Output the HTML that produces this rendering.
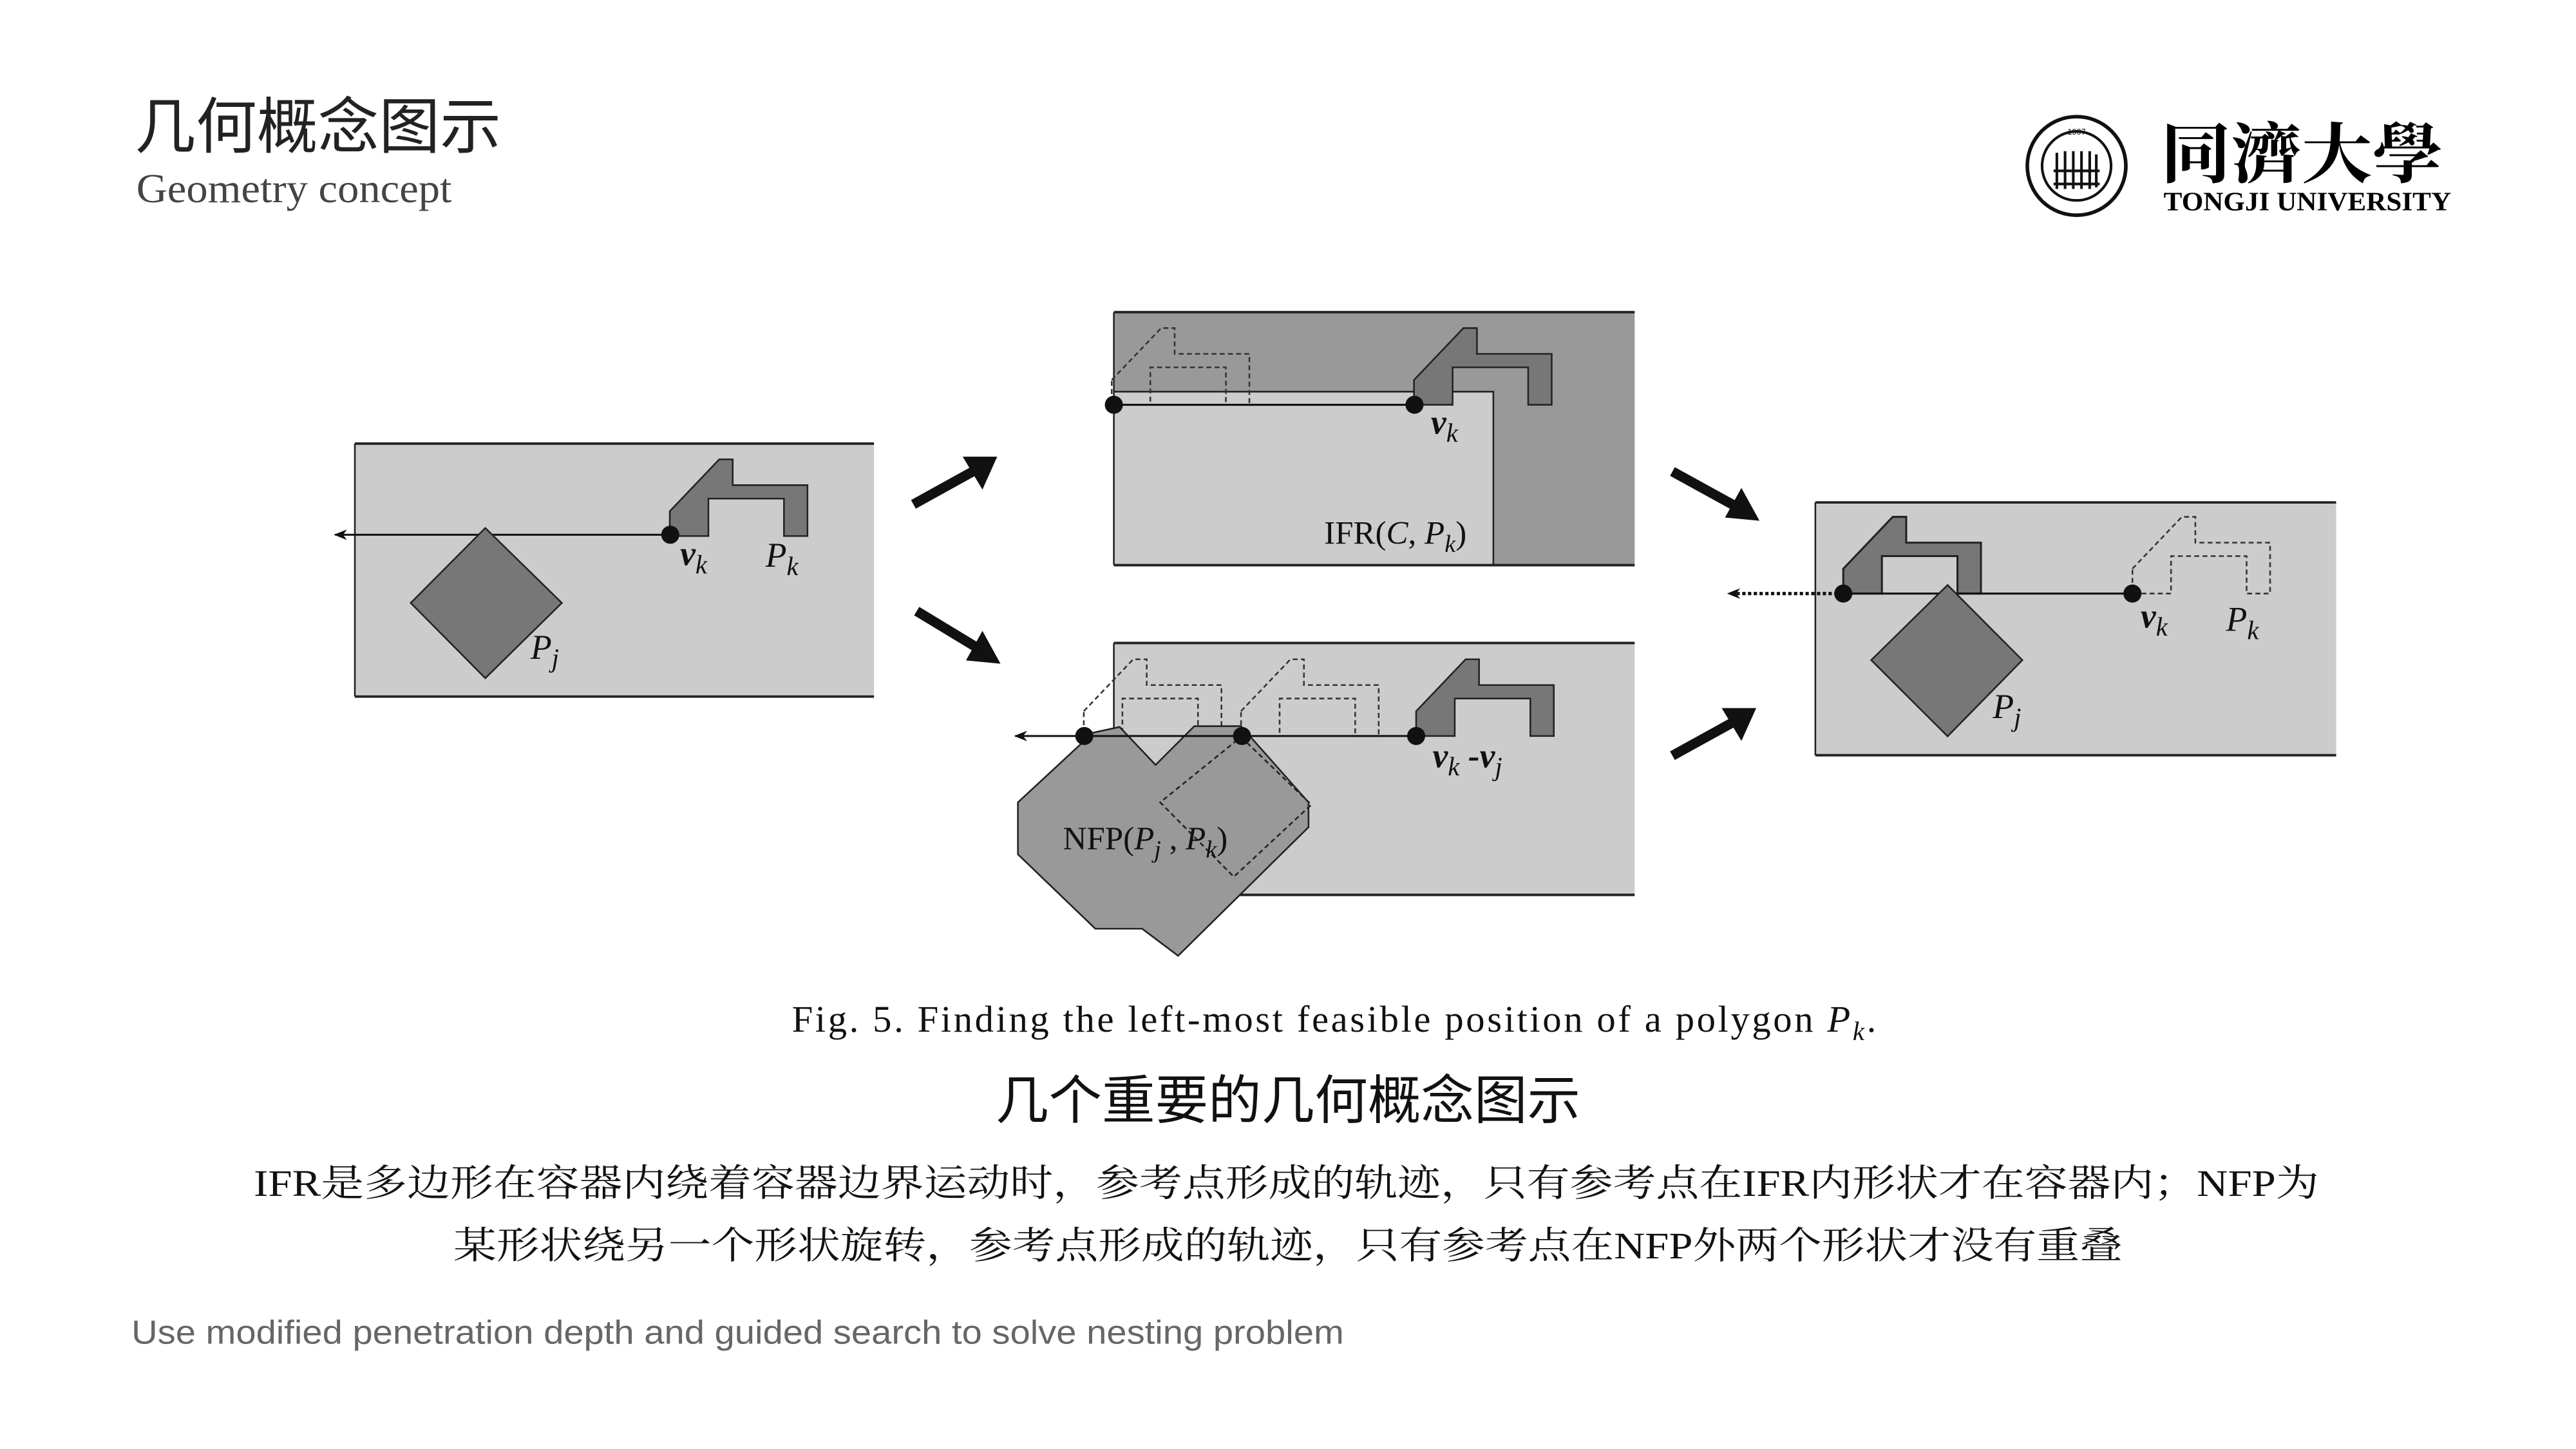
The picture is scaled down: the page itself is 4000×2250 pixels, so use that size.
<!DOCTYPE html>
<html><head><meta charset="utf-8"><style>
html,body{margin:0;padding:0;background:#fff;width:4000px;height:2250px;overflow:hidden}
svg{display:block}
.serif{font-family:"Liberation Serif","Noto Serif CJK SC",serif}
.sans{font-family:"Liberation Sans","Noto Sans CJK SC",sans-serif}
.it{font-style:italic}
</style></head><body>
<svg width="4000" height="2250" viewBox="0 0 1568 882" xmlns="http://www.w3.org/2000/svg">
<defs>
<path id="pk" d="M407.7,311.2 L437.8,279.6 L446,279.6 L446,295.3 L491.5,295.3 L491.5,326.3 L477.2,326.3 L477.2,303.5 L431.2,303.5 L431.2,326.3 L407.7,326.3 Z"/>
<marker id="ah" viewBox="0 0 10 10" refX="9" refY="5" markerWidth="8" markerHeight="8" orient="auto-start-reverse" markerUnits="userSpaceOnUse"><path d="M0,1 L10,5 L0,9 L3,5 Z" fill="#111"/></marker>
</defs>

<!-- Header -->
<text x="82" y="90" class="sans" font-size="37" fill="#222" textLength="223" lengthAdjust="spacingAndGlyphs">几何概念图示</text>
<text x="83" y="123" class="serif" font-size="25" fill="#444" textLength="192" lengthAdjust="spacingAndGlyphs">Geometry concept</text>

<!-- Logo -->
<circle cx="1264" cy="101" r="30" fill="none" stroke="#111" stroke-width="2.2"/>
<circle cx="1264" cy="101" r="21" fill="none" stroke="#111" stroke-width="1.6"/>
<text x="1264" y="82" text-anchor="middle" class="sans" font-size="5" fill="#111">1907</text>
<path d="M1252,93 L1252,115 M1257,92 L1257,115 M1262,92 L1262,115 M1267,92 L1267,115 M1272,92 L1272,115 M1276,94 L1276,114 M1250,104 L1278,104 M1250,112 L1278,112" stroke="#111" stroke-width="1.6" fill="none"/>
<text x="1315" y="108" class="serif" font-size="40" font-weight="bold" fill="#000" textLength="172" lengthAdjust="spacingAndGlyphs">同濟大學</text>
<text x="1317" y="128" class="serif" font-size="16" font-weight="bold" fill="#000" textLength="175" lengthAdjust="spacingAndGlyphs">TONGJI UNIVERSITY</text>

<!-- Panel 1 -->
<rect x="216" y="270" width="316" height="154" fill="#cccccc"/>
<line x1="216" y1="270" x2="532" y2="270" stroke="#222" stroke-width="1.5"/>
<line x1="216" y1="424" x2="532" y2="424" stroke="#222" stroke-width="1.5"/>
<line x1="216" y1="270" x2="216" y2="424" stroke="#222" stroke-width="1"/>
<use href="#pk" fill="#777" stroke="#222" stroke-width="1"/>
<line x1="408" y1="325.5" x2="204" y2="325.5" stroke="#111" stroke-width="1.2" marker-end="url(#ah)"/>
<polygon points="295.4,321.4 342,367 295.4,412.8 250,367" fill="#777" stroke="#222" stroke-width="1"/>
<circle cx="408" cy="325.5" r="5.5" fill="#111"/>
<text x="414" y="344" class="serif it" font-size="21" font-weight="bold" fill="#111">v<tspan font-size="16" dy="5" font-weight="normal">k</tspan></text>
<text x="466" y="345" class="serif it" font-size="21" fill="#111">P<tspan font-size="16" dy="5">k</tspan></text>
<text x="323" y="401" class="serif it" font-size="21" fill="#111">P<tspan font-size="16" dy="5">j</tspan></text>

<!-- Panel IFR -->
<rect x="678" y="190" width="317" height="154" fill="#999999"/>
<rect x="678" y="238.4" width="231" height="105.6" fill="#cccccc"/>
<polyline points="678,238.4 909,238.4 909,344" fill="none" stroke="#222" stroke-width="1"/>
<line x1="678" y1="190" x2="995" y2="190" stroke="#222" stroke-width="1.5"/>
<line x1="678" y1="344" x2="995" y2="344" stroke="#222" stroke-width="1.5"/>
<line x1="678" y1="190" x2="678" y2="344" stroke="#222" stroke-width="1"/>
<use href="#pk" transform="translate(269,-79.9)" fill="none" stroke="#333" stroke-width="1" stroke-dasharray="3,2"/>
<use href="#pk" transform="translate(453,-79.9)" fill="#777" stroke="#222" stroke-width="1"/>
<line x1="861" y1="246.4" x2="678" y2="246.4" stroke="#111" stroke-width="1.2"/>
<circle cx="678" cy="246.4" r="5.5" fill="#111"/>
<circle cx="861" cy="246.4" r="5.5" fill="#111"/>
<text x="871" y="264" class="serif it" font-size="21" font-weight="bold" fill="#111">v<tspan font-size="16" dy="5" font-weight="normal">k</tspan></text>
<text x="806" y="331" class="serif" font-size="20" fill="#111">IFR(<tspan class="it">C</tspan>, <tspan class="it">P</tspan><tspan class="it" font-size="15" dy="5">k</tspan><tspan dy="-5">)</tspan></text>

<!-- Panel NFP -->
<rect x="678" y="391.4" width="317" height="153.3" fill="#cccccc"/>
<line x1="678" y1="391.4" x2="995" y2="391.4" stroke="#222" stroke-width="1.5"/>
<line x1="678" y1="544.7" x2="995" y2="544.7" stroke="#222" stroke-width="1.5"/>
<line x1="678" y1="391.4" x2="678" y2="544.7" stroke="#222" stroke-width="1"/>
<use href="#pk" transform="translate(252,121.7)" fill="none" stroke="#333" stroke-width="1" stroke-dasharray="3,2"/>
<use href="#pk" transform="translate(347.7,121.7)" fill="none" stroke="#333" stroke-width="1" stroke-dasharray="3,2"/>
<polygon points="659.6,447.2 681.5,442.5 703.4,465.6 727,442 755.4,442 796.5,488.4 796.5,503.5 717.1,581.8 695.2,565.3 666.7,565.3 619.6,520 619.6,488.4 659.6,451.3" fill="#999" stroke="#222" stroke-width="1"/>
<polygon points="755.4,448.6 798.2,489.8 751,533.7 706.2,488.4" fill="none" stroke="#222" stroke-width="1" stroke-dasharray="3,2"/>
<use href="#pk" transform="translate(454.3,121.7)" fill="#777" stroke="#222" stroke-width="1"/>
<line x1="862" y1="448" x2="618" y2="448" stroke="#111" stroke-width="1.2" marker-end="url(#ah)"/>
<circle cx="660" cy="448" r="5.5" fill="#111"/>
<circle cx="756" cy="448" r="5.5" fill="#111"/>
<circle cx="862" cy="448" r="5.5" fill="#111"/>
<text x="872" y="467" class="serif it" font-size="21" font-weight="bold" fill="#111">v<tspan font-size="16" dy="5" font-weight="normal">k</tspan><tspan dy="-5"> -v</tspan><tspan font-size="16" dy="5" font-weight="normal">j</tspan></text>
<text x="647" y="517" class="serif" font-size="20" fill="#111">NFP(<tspan class="it">P</tspan><tspan class="it" font-size="15" dy="5">j</tspan><tspan dy="-5"> , </tspan><tspan class="it">P</tspan><tspan class="it" font-size="15" dy="5">k</tspan><tspan dy="-5">)</tspan></text>

<!-- Right panel -->
<rect x="1105" y="305.8" width="317" height="153.9" fill="#cccccc"/>
<line x1="1105" y1="305.8" x2="1422" y2="305.8" stroke="#222" stroke-width="1.5"/>
<line x1="1105" y1="459.7" x2="1422" y2="459.7" stroke="#222" stroke-width="1.5"/>
<line x1="1105" y1="305.8" x2="1105" y2="459.7" stroke="#222" stroke-width="1"/>
<use href="#pk" transform="translate(890.3,35)" fill="none" stroke="#333" stroke-width="1" stroke-dasharray="3,2"/>
<use href="#pk" transform="translate(714.3,35)" fill="#777" stroke="#222" stroke-width="1.2"/>
<line x1="1122" y1="361.3" x2="1298" y2="361.3" stroke="#111" stroke-width="1.2"/>
<line x1="1122" y1="361.3" x2="1052" y2="361.3" stroke="#111" stroke-width="2" stroke-dasharray="2,1.5" marker-end="url(#ah)"/>
<polygon points="1185.5,356.1 1231,401.8 1185.5,448.2 1139,401.8" fill="#777" stroke="#222" stroke-width="1"/>
<circle cx="1122" cy="361.3" r="5.5" fill="#111"/>
<circle cx="1298" cy="361.3" r="5.5" fill="#111"/>
<text x="1303" y="382" class="serif it" font-size="21" font-weight="bold" fill="#111">v<tspan font-size="16" dy="5" font-weight="normal">k</tspan></text>
<text x="1355" y="384" class="serif it" font-size="21" fill="#111">P<tspan font-size="16" dy="5">k</tspan></text>
<text x="1213" y="437" class="serif it" font-size="21" fill="#111">P<tspan font-size="16" dy="5">j</tspan></text>

<!-- Big arrows -->
<g stroke="#111" stroke-width="6" fill="#111">
<line x1="556" y1="307" x2="594" y2="286"/>
<line x1="558" y1="372" x2="596" y2="395"/>
<line x1="1018" y1="287" x2="1058" y2="309"/>
<line x1="1018" y1="460" x2="1056" y2="439"/>
</g>
<g fill="#111">
<polygon points="607,278 586,278 598,298"/>
<polygon points="609,404 598,384 588,402"/>
<polygon points="1071,317 1060,297 1050,315"/>
<polygon points="1069,431 1048,431 1060,451"/>
</g>

<!-- Caption -->
<text x="482" y="628" class="serif" font-size="23" fill="#111" textLength="660" lengthAdjust="spacing">Fig. 5.  Finding the left-most feasible position of a polygon <tspan class="it">P</tspan><tspan class="it" font-size="16" dy="5">k</tspan><tspan dy="-5">.</tspan></text>
<text x="784" y="681" text-anchor="middle" class="sans" font-size="32" fill="#111" textLength="356" lengthAdjust="spacingAndGlyphs">几个重要的几何概念图示</text>
<text x="783" y="728" text-anchor="middle" class="serif" font-size="23" fill="#111" textLength="1257" lengthAdjust="spacingAndGlyphs">IFR是多边形在容器内绕着容器边界运动时，参考点形成的轨迹，只有参考点在IFR内形状才在容器内；NFP为</text>
<text x="784" y="766" text-anchor="middle" class="serif" font-size="23" fill="#111" textLength="1016" lengthAdjust="spacingAndGlyphs">某形状绕另一个形状旋转，参考点形成的轨迹，只有参考点在NFP外两个形状才没有重叠</text>
<text x="80" y="818" class="sans" font-size="20.5" fill="#666" textLength="738" lengthAdjust="spacingAndGlyphs">Use modified penetration depth and guided search to solve nesting problem</text>
</svg>
</body></html>
